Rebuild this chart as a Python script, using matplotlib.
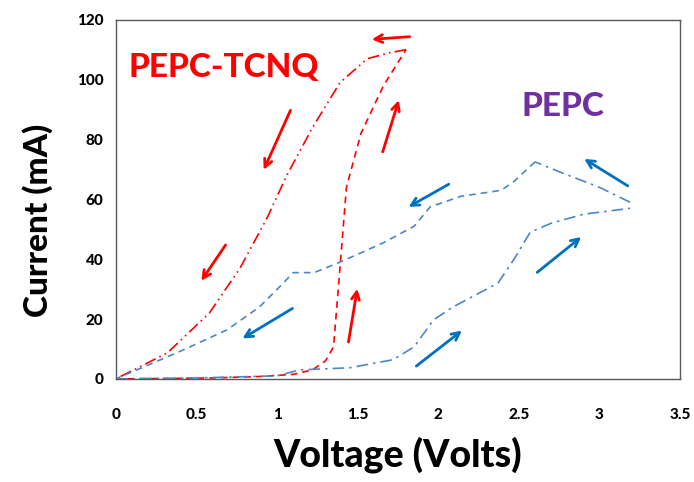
import matplotlib.pyplot as plt

# PEPC-TCNQ sweep (red)
tcnq_fwd_v = [0.0, 0.3, 0.6, 0.9, 1.1, 1.22, 1.30, 1.35, 1.39, 1.43, 1.52, 1.66, 1.80]
tcnq_fwd_i = [0.0, 0.1, 0.3, 0.8, 1.5, 3.0, 6.0, 10.7, 37.0, 64.0, 82.0, 98.0, 110.0]
tcnq_rev_v = [1.80, 1.70, 1.56, 1.39, 1.22, 1.06, 0.94, 0.77, 0.58, 0.32, 0.0]
tcnq_rev_i = [110.0, 109.0, 107.0, 99.0, 84.0, 68.0, 54.0, 37.0, 22.0, 8.7, 0.0]

# PEPC sweep (blue)
pepc_fwd_v = [0.0, 0.5, 1.0, 1.14, 1.45, 1.72, 1.85, 1.97, 2.09, 2.37, 2.47, 2.57, 2.70, 2.90, 3.19]
pepc_fwd_i = [0.0, 0.3, 1.0, 3.0, 3.7, 6.4, 10.7, 19.7, 24.0, 32.0, 40.0, 49.0, 52.0, 55.0, 57.0]
pepc_top_v = [3.19, 3.00, 2.76, 2.60]
pepc_top_i = [59.0, 64.0, 69.0, 72.5]
pepc_rev_v = [2.60, 2.47, 2.39, 2.14, 1.95, 1.85, 1.66, 1.39, 1.23, 1.10, 1.02, 0.89, 0.69, 0.42, 0.0]
pepc_rev_i = [72.5, 66.0, 63.0, 61.0, 57.5, 51.0, 45.5, 39.0, 35.5, 35.5, 31.0, 24.0, 16.4, 9.7, 0.0]

# direction arrows: (tail V, tail I, head V, head I)
red_arrows = [(1.84, 114.4, 1.57, 113.4), (1.09, 90.6, 0.91, 69.0),
              (0.69, 45.5, 0.52, 32.0), (1.65, 75.0, 1.76, 94.0),
              (1.44, 11.4, 1.50, 31.0)]
blue_arrows = [(1.11, 24.0, 0.77, 13.0), (2.08, 65.5, 1.80, 57.0),
               (3.19, 64.0, 2.89, 74.0), (2.60, 35.0, 2.90, 48.0),
               (1.85, 3.7, 2.16, 16.7)]

plt.rcParams['font.family'] = ['Lato', 'DejaVu Sans']
fig = plt.figure(figsize=(6.94, 4.82), dpi=100)
ax = fig.add_axes([0.167, 0.214, 0.813, 0.745])

red = '#FF0000'
line_blue = '#4A86C8'
arrow_blue = '#0070C0'

ax.plot(tcnq_fwd_v, tcnq_fwd_i, color=red, lw=1.2, ls=(0, (4, 3)))
ax.plot(tcnq_rev_v, tcnq_rev_i, color=red, lw=1.2, ls=(0, (7, 2.5, 1, 2.5, 1, 2.5)))
ax.plot(pepc_fwd_v, pepc_fwd_i, color=line_blue, lw=1.2, ls=(0, (7, 3, 1.5, 3)))
ax.plot(pepc_top_v, pepc_top_i, color=line_blue, lw=1.2, ls=(0, (7, 3, 1.5, 3)))
ax.plot(pepc_rev_v, pepc_rev_i, color=line_blue, lw=1.2, ls=(0, (4, 3)))

for x0, y0, x1, y1 in red_arrows:
    ax.annotate('', xy=(x1, y1), xytext=(x0, y0),
                arrowprops=dict(arrowstyle='->', color=red, lw=2, mutation_scale=14))
for x0, y0, x1, y1 in blue_arrows:
    ax.annotate('', xy=(x1, y1), xytext=(x0, y0),
                arrowprops=dict(arrowstyle='->', color=arrow_blue, lw=2, mutation_scale=14))

ax.text(0.67, 104, 'PEPC-TCNQ', color=red, fontsize=24, fontweight='black', ha='center', va='center')
ax.text(2.77, 91, 'PEPC', color='#7030A0', fontsize=24, fontweight='black', ha='center', va='center')

ax.set_xlim(0, 3.5)
ax.set_ylim(0, 120)
ax.set_xticks([0, 0.5, 1, 1.5, 2, 2.5, 3, 3.5])
ax.set_xticklabels(['0', '0.5', '1', '1.5', '2', '2.5', '3', '3.5'])
ax.set_yticks([0, 20, 40, 60, 80, 100, 120])
ax.tick_params(length=0, labelsize=11)
ax.tick_params(axis='x', pad=21)
ax.tick_params(axis='y', pad=9)
for lab in ax.get_xticklabels() + ax.get_yticklabels():
    lab.set_fontweight('black')
for sp in ax.spines.values():
    sp.set_color('#595959')
    sp.set_linewidth(1.0)

ax.set_xlabel('Voltage (Volts)', fontsize=27, fontweight='black', labelpad=10)
ax.set_ylabel('Current (mA)', fontsize=24, fontweight='black')
ax.yaxis.set_label_coords(-0.112, 0.44)

fig.savefig('out.png', dpi=100)
